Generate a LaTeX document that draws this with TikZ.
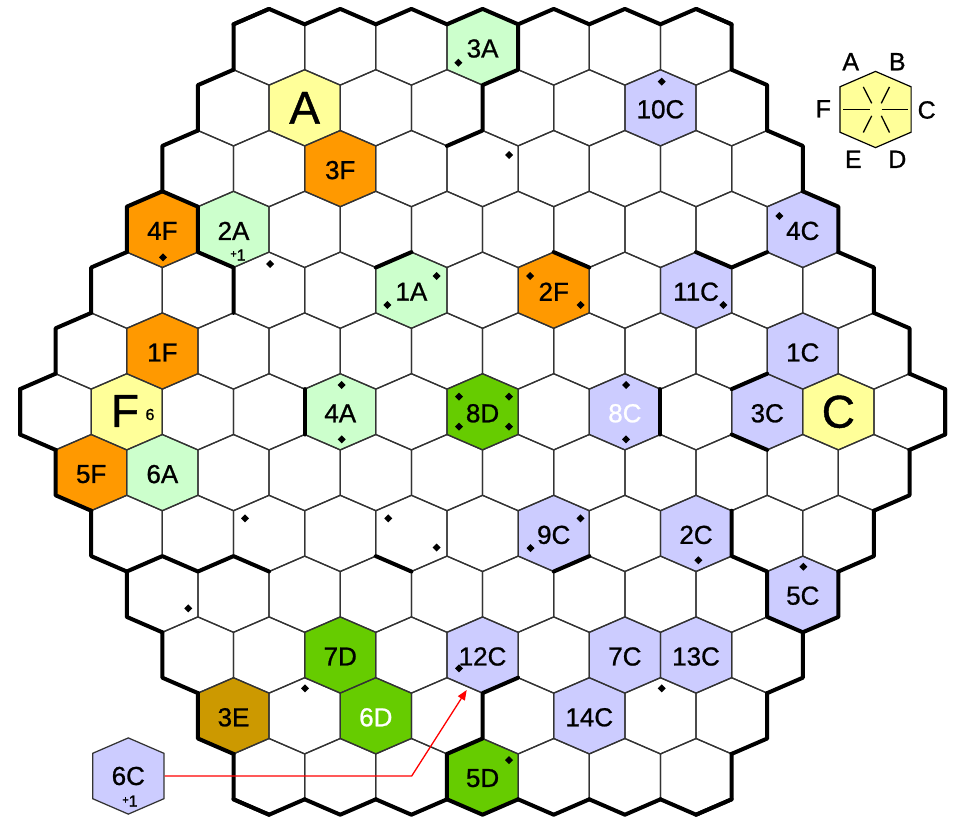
\documentclass[tikz,border=0pt]{standalone}
\usepackage{fontspec}
\setmainfont{Liberation Sans}
\newfontfamily\heavyfont[FakeBold=0.9]{Liberation Sans}
\usetikzlibrary{arrows.meta}
\definecolor{hexyellow}{HTML}{FFFF99}
\definecolor{hexorange}{HTML}{FF9900}
\definecolor{hexmint}{HTML}{CCFFCC}
\definecolor{hexgreen}{HTML}{66CC00}
\definecolor{hexlav}{HTML}{CCCCFF}
\definecolor{hexbrown}{HTML}{CC9900}
\begin{document}
\begin{tikzpicture}[x=1pt,y=-1pt,
  gridline/.style={line width=1.25pt, draw=black!80, line join=round},
  wall/.style={line width=4pt, line cap=round, line join=round, draw=black},
  lbl/.style={inner sep=0pt, font=\heavyfont\fontsize{26}{26}\selectfont},
  biglbl/.style={inner sep=0pt, font=\heavyfont\fontsize{46}{46}\selectfont},
  keylbl/.style={inner sep=0pt, font=\heavyfont\fontsize{25}{25}\selectfont},
  smalllbl/.style={inner sep=0pt, font=\heavyfont\fontsize{16}{16}\selectfont},
  spoke/.style={line width=1.3pt, draw=black},
  marker/.style={fill=black},
  redarrow/.style={draw=red, line width=1.3pt, -{Triangle[length=10pt,width=8pt]}}
]
\fill[white] (0,0) rectangle (955,819);
\useasboundingbox (0,0) rectangle (955,819);

% ---------- coordinates of all board hexes ----------
\foreach \rr in {0,...,12}{
  \pgfmathtruncatemacro\dd{abs(\rr-6)}
  \pgfmathtruncatemacro\nn{12-\dd}
  \foreach \kk in {0,...,\nn}{
    \pgfmathtruncatemacro\qq{\dd+2*\kk}
    \pgfmathsetmacro\hx{55.6+35.58*\qq}
    \pgfmathsetmacro\hy{47+60.8*\rr}
    \coordinate (h\rr-\qq) at (\hx,\hy);
    \coordinate (h\rr-\qq-0) at (\hx,\hy-38.1);
    \coordinate (h\rr-\qq-1) at (\hx+35.58,\hy-22.7);
    \coordinate (h\rr-\qq-2) at (\hx+35.58,\hy+22.7);
    \coordinate (h\rr-\qq-3) at (\hx,\hy+38.1);
    \coordinate (h\rr-\qq-4) at (\hx-35.58,\hy+22.7);
    \coordinate (h\rr-\qq-5) at (\hx-35.58,\hy-22.7);
  }
}

% ---------- coloured hexes ----------
\foreach \hh/\col in {
  h1-7/hexyellow, h6-2/hexyellow, h6-22/hexyellow,
  h2-8/hexorange, h3-3/hexorange, h4-14/hexorange, h5-3/hexorange, h7-1/hexorange,
  h0-12/hexmint, h3-5/hexmint, h4-10/hexmint, h6-8/hexmint, h7-3/hexmint,
  h6-12/hexgreen, h10-8/hexgreen, h11-9/hexgreen, h12-12/hexgreen,
  h1-17/hexlav, h3-21/hexlav, h4-18/hexlav, h5-21/hexlav, h6-20/hexlav,
  h6-16/hexlav, h8-14/hexlav, h8-18/hexlav, h9-21/hexlav, h10-12/hexlav,
  h10-16/hexlav, h10-18/hexlav, h11-15/hexlav,
  h11-5/hexbrown}{
  \fill[\col] (\hh-0)--(\hh-1)--(\hh-2)--(\hh-3)--(\hh-4)--(\hh-5)--cycle;
}

% ---------- thin grid ----------
\foreach \rr in {0,...,12}{
  \pgfmathtruncatemacro\dd{abs(\rr-6)}
  \pgfmathtruncatemacro\nn{12-\dd}
  \foreach \kk in {0,...,\nn}{
    \pgfmathtruncatemacro\qq{\dd+2*\kk}
    \draw[gridline] (h\rr-\qq-0)--(h\rr-\qq-1)--(h\rr-\qq-2)--(h\rr-\qq-3)--(h\rr-\qq-4)--(h\rr-\qq-5)--cycle;
  }
}

% ---------- outer border ----------
\foreach \qq in {6,8,...,18}{
  \draw[wall] (h0-\qq-5)--(h0-\qq-0)--(h0-\qq-1);
  \draw[wall] (h12-\qq-2)--(h12-\qq-3)--(h12-\qq-4);
}
\foreach \rr in {0,...,6}{
  \pgfmathtruncatemacro\cA{6-\rr}
  \pgfmathtruncatemacro\cB{18+\rr}
  \draw[wall] (h\rr-\cA-4)--(h\rr-\cA-5)--(h\rr-\cA-0);
  \draw[wall] (h\rr-\cB-0)--(h\rr-\cB-1)--(h\rr-\cB-2);
}
\foreach \rr in {6,...,12}{
  \pgfmathtruncatemacro\cA{\rr-6}
  \pgfmathtruncatemacro\cB{30-\rr}
  \draw[wall] (h\rr-\cA-3)--(h\rr-\cA-4)--(h\rr-\cA-5);
  \draw[wall] (h\rr-\cB-1)--(h\rr-\cB-2)--(h\rr-\cB-3);
}

% ---------- inner walls ----------
\draw[wall] (h3-3-0)--(h3-3-1)--(h3-3-2)--(h3-5-3)--(h4-6-4);
\draw[wall] (h0-12-1)--(h0-12-2)--(h0-12-3)--(h2-12-0)--(h2-12-5);
\draw[wall] (h4-10-5)--(h4-10-0);
\draw[wall] (h4-14-0)--(h4-14-1);
\draw[wall] (h4-18-0)--(h4-18-1)--(h4-20-0);
\draw[wall] (h6-8-5)--(h6-8-4);
\draw[wall] (h6-16-1)--(h6-16-2);
\draw[wall] (h6-20-5)--(h6-20-0);
\draw[wall] (h6-20-4)--(h6-20-3);
\draw[wall] (h8-2-3)--(h8-2-2)--(h8-4-3)--(h8-4-2)--(h8-6-3);
\draw[wall] (h8-10-4)--(h8-10-3);
\draw[wall] (h8-14-3)--(h8-14-2);
\draw[wall] (h8-18-1)--(h8-18-2)--(h8-20-3)--(h9-21-5)--(h9-21-4)--(h9-21-3);
\draw[wall] (h10-12-2)--(h10-12-3)--(h12-12-0)--(h12-12-5)--(h12-12-4);

% ---------- markers ----------
\foreach \mx/\my in {163/257.3, 270/264, 458.3/62.7, 509/155, 436.7/276, 530/276,
  387.3/305, 580.7/305, 661.7/81.7, 779.3/216, 723.3/305, 341.7/385, 341.7/439.3,
  459/396.7, 509/396.7, 459/426.7, 509/426.7, 626/385, 626/439.3, 245/518.3,
  388.3/518.3, 436.7/547.5, 580.5/518.3, 530.5/548, 698.3/560.3, 803.3/566.7,
  188.3/608.3, 305/688.3, 459/668.3, 661.7/688.3, 509/760}{
  \fill[marker] (\mx,\my-4)--(\mx+4,\my)--(\mx,\my+4)--(\mx-4,\my)--cycle;
}

% ---------- labels ----------
\foreach \hh/\txt in {h0-12/3A, h2-8/3F, h3-3/4F, h3-5/2A, h1-17/10C, h3-21/4C,
  h4-10/1A, h4-14/2F, h4-18/11C, h5-3/1F, h5-21/1C, h6-8/4A, h6-12/8D, h6-20/3C,
  h7-1/5F, h7-3/6A, h8-14/9C, h8-18/2C, h9-21/5C, h10-8/7D, h10-12/12C,
  h10-16/7C, h10-18/13C, h11-5/3E, h11-15/14C, h12-12/5D}{
  \node[lbl] at ([yshift=-1.5pt]\hh) {\txt};
}
\node[lbl, text=white] (l8C) at ([yshift=-1.5pt]h6-16) {8C};
\node[lbl, text=white] (l6D) at ([yshift=-1.5pt]h11-9) {6D};
\node[biglbl] (lA) at (h1-7) {A};
\node[biglbl] (lC) at (h6-22) {C};
\node[biglbl] (lF) at (125,411) {F};
\node[smalllbl] (lF6) at (150,414.5) {6};
\node[smalllbl] (l2Aplus) at (238,255) {\raisebox{3pt}{\fontsize{11}{11}\selectfont+}1};

% ---------- key ----------
\draw[fill=hexyellow, line width=1.2pt] (875.5,71.4)--(911.1,86.8)--(911.1,132.2)--(875.5,147.6)--(839.9,132.2)--(839.9,86.8)--cycle;
\coordinate (keyc) at (875.5,109.5);
\draw[spoke] (843.3,109.4)--(869.8,109.4);
\draw[spoke] (881.5,109.4)--(908.2,109.4);
\draw[spoke] (863.3,86.9)--(871.7,103.3);
\draw[spoke] (889.5,86.9)--(881.3,103.3);
\draw[spoke] (871.7,115.8)--(863.3,132.5);
\draw[spoke] (881.3,115.8)--(889.5,132.5);
\node[keylbl] (kA) at (850.7,61.7) {A};
\node[keylbl] (kB) at (897.3,61.7) {B};
\node[keylbl] (kF) at (823.3,108.8) {F};
\node[keylbl] (kC) at (926.7,110) {C};
\node[keylbl] (kE) at (853.3,159.3) {E};
\node[keylbl] (kD) at (897.3,159.3) {D};

% ---------- off-board piece and arrow ----------
\draw[fill=hexlav, line width=1.25pt, draw=black!80] (128.3,737.9)--(163.9,753.3)--(163.9,798.7)--(128.3,814.1)--(92.7,798.7)--(92.7,753.3)--cycle;
\node[lbl] (l6C) at (128.3,776) {6C};
\node[smalllbl] (l6Cplus) at (130,801) {\raisebox{3pt}{\fontsize{11}{11}\selectfont+}1};
\coordinate (arrS) at (164.5,776);
\coordinate (arrM) at (411.7,776);
\coordinate (arrT) at (466.7,690);
\draw[redarrow] (arrS) -- (arrM) -- (arrT);
\end{tikzpicture}
\end{document}
